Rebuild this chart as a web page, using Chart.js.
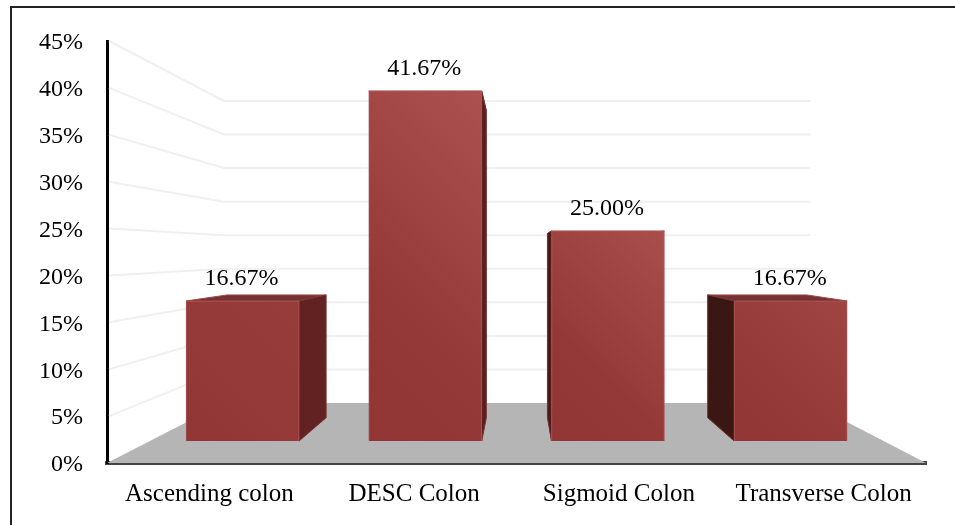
<!DOCTYPE html>
<html>
<head>
<meta charset="utf-8">
<style>
    html, body { margin: 0; padding: 0; background: #fff; overflow: hidden; }
    #frame { position: absolute; left: 10px; top: 6px; width: 960px; height: 540px; border: 2px solid #222; box-sizing: border-box; }
    #wrap { position: absolute; left: 0; top: 0; width: 955px; height: 525px; }
</style>
<script src="https://cdn.jsdelivr.net/npm/chart.js@4"></script>
</head>
<body>
<div id="frame"></div>
<div id="wrap"><canvas id="chart"></canvas></div>
<script>
const categories = ["Ascending colon", "DESC Colon", "Sigmoid Colon", "Transverse Colon"];
const values = [16.67, 41.67, 25.00, 16.67];
const valueLabels = ["16.67%", "41.67%", "25.00%", "16.67%"];
const tickValues = [0, 5, 10, 15, 20, 25, 30, 35, 40, 45];
const barTopColours = ["#983b3b", "#ac5050", "#a94d4d", "#a04444"];

const fontFamily = '"Liberation Serif", "Times New Roman", serif';
const vanish = { x: 519, y: 252 };
const barDepth = 0.877;
const backDepth = 0.716;

function towardsVanish(x, y, k) {
    return [vanish.x + (x - vanish.x) * k, vanish.y + (y - vanish.y) * k];
}

function fillPoly(ctx, points, fill, stroke) {
    ctx.beginPath();
    points.forEach((p, i) => (i ? ctx.lineTo(p[0], p[1]) : ctx.moveTo(p[0], p[1])));
    ctx.closePath();
    ctx.fillStyle = fill;
    ctx.fill();
    if (stroke) {
        ctx.strokeStyle = stroke;
        ctx.lineWidth = 1;
        ctx.stroke();
    }
}

const scenePlugin = {
    id: "scene",
    beforeDatasetsDraw(chart) {
        const { ctx, chartArea, scales } = chart;
        const wallX = chartArea.left;
        const floorY = scales.y.getPixelForValue(0);
        const backLeft = towardsVanish(wallX, floorY, backDepth);
        const backRight = towardsVanish(chartArea.right, floorY, backDepth);

        ctx.save();
        fillPoly(ctx, [[wallX, floorY], backLeft, backRight, [chartArea.right, floorY]], "#b5b5b5");

        ctx.strokeStyle = "#f0f0f0";
        ctx.lineWidth = 2;
        tickValues.filter((t) => t > 0).forEach((t) => {
            const y = scales.y.getPixelForValue(t);
            const left = towardsVanish(wallX, y, backDepth);
            const right = towardsVanish(chartArea.right, y, backDepth);
            ctx.beginPath();
            ctx.moveTo(wallX + 2, y);
            ctx.lineTo(left[0], left[1]);
            ctx.lineTo(right[0], right[1]);
            ctx.stroke();
        });

        // sides and tops behind the front faces
        chart.getDatasetMeta(0).data.forEach((bar) => {
            const half = bar.width / 2;
            const x1 = bar.x - half;
            const x2 = bar.x + half;
            const top = bar.y;
            const base = bar.base;
            const edge = bar.x < vanish.x ? x2 : x1;
            const sideFill = bar.x < vanish.x
                ? (x2 > vanish.x - 60 ? "#5a1f1f" : "#622222")
                : (x1 < vanish.x + 60 ? "#4a1a18" : "#3b1714");
            fillPoly(ctx, [[x1, top], towardsVanish(x1, top, barDepth), towardsVanish(x2, top, barDepth), [x2, top]], "#743232", "#a04848");
            fillPoly(ctx, [[edge, top], towardsVanish(edge, top, barDepth), towardsVanish(edge, base, barDepth), [edge, base]], sideFill, "#7a3030");
        });
        ctx.restore();
    },
    afterDatasetsDraw(chart) {
        const { ctx } = chart;
        ctx.save();
        ctx.fillStyle = "#000";
        ctx.font = "24px " + fontFamily;
        ctx.textAlign = "center";
        ctx.textBaseline = "middle";
        chart.getDatasetMeta(0).data.forEach((bar, i) => {
            ctx.fillText(valueLabels[i], bar.x - 1, bar.y - 22);
        });
        ctx.restore();
    }
};

new Chart(document.getElementById("chart"), {
    type: "bar",
    data: {
        labels: categories,
        datasets: [{
            data: values.map((v, i) => ({ x: i, y: v })),
            xAxisID: "xBar",
            yAxisID: "yBar",
            barThickness: 113,
            borderWidth: 1,
            borderColor: "#a85252",
            backgroundColor(context) {
                const { xBar, yBar } = context.chart.scales;
                const x = xBar.getPixelForValue(context.dataIndex);
                const bottom = yBar.getPixelForValue(0);
                const top = yBar.getPixelForValue(values[context.dataIndex]);
                // scales have no pixels yet on the first pass
                if (![x, bottom, top].every(Number.isFinite)) {
                    return "#923535";
                }
                // 45 degree sheen, lightest at the top right corner
                const reach = (113 + bottom - top) / 2;
                const gradient = context.chart.ctx.createLinearGradient(x - 56, bottom, x - 56 + reach, bottom - reach);
                gradient.addColorStop(0, "#923535");
                gradient.addColorStop(0.35, "#953838");
                gradient.addColorStop(1, barTopColours[context.dataIndex]);
                return gradient;
            }
        }]
    },
    plugins: [scenePlugin],
    options: {
        responsive: true,
        maintainAspectRatio: false,
        animation: false,
        layout: { padding: { top: 41, right: 29, left: 0, bottom: 0 } },
        plugins: { legend: { display: false }, tooltip: { enabled: false } },
        scales: {
            x: {
                type: "category",
                position: "bottom",
                offset: true,
                grid: { display: false, drawTicks: false },
                border: { color: "#444444", width: 4 },
                ticks: { color: "#000", font: { family: fontFamily, size: 25 }, padding: 16, maxRotation: 0, autoSkip: false },
                afterFit(scale) { scale.height = 62; }
            },
            y: {
                min: 0,
                max: 45,
                position: "left",
                grid: { display: false, drawTicks: false },
                border: { color: "#000", width: 3 },
                afterBuildTicks(scale) { scale.ticks = tickValues.map((value) => ({ value })); },
                ticks: { color: "#000", font: { family: fontFamily, size: 24 }, padding: 24, labelOffset: 2, callback: (v) => v + "%" },
                afterFit(scale) { scale.width = 107; }
            },
            xBar: { type: "linear", display: false, offset: false, min: -0.742, max: 3.741 },
            yBar: { type: "linear", display: false, position: "left", min: -2.62, max: 47.62 }
        }
    }
});
</script>
</body>
</html>
